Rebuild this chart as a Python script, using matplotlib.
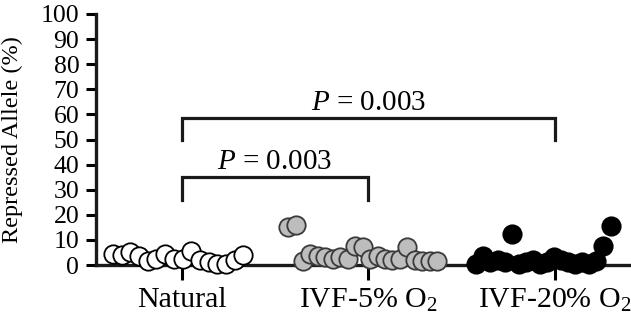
import numpy as np
import matplotlib
matplotlib.use("Agg")
from matplotlib import pyplot as plt

plt.rcParams['font.family'] = ['Liberation Serif', 'DejaVu Serif']
plt.rcParams['mathtext.fontset'] = 'custom'
plt.rcParams['mathtext.rm'] = 'Liberation Serif'
plt.rcParams['mathtext.it'] = 'Liberation Serif:italic'

# repressed allele per embryo, listed left to right within each group
groups = ['Natural', 'IVF-5% O$_2$', 'IVF-20% O$_2$']
natural = [4.5, 4, 5, 3.5, 1.5, 2.5, 4.5, 2.5, 2.5, 5.5, 2, 1, 0.5, 0.5, 2, 4]
ivf5 = [15, 16, 1.5, 4.5, 3.5, 3, 2.5, 3, 2.5, 7.5, 7, 2.5, 3.5, 2.5, 2, 2.5, 7, 2, 1.5, 1.5, 1.5]
ivf20 = [0.5, 3.5, 1, 2, 1, 12.5, 0.5, 1, 2, 0.5, 1, 3, 2, 1, 0.5, 1, 0.5, 1.5, 7.5, 15.5]
p_values = ['0.003', '0.003']

fig = plt.figure(figsize=(6.31, 3.23), dpi=100)
ax = fig.add_axes([96/631, 58/323, 1 - 96/631, 251/323])

styles = [dict(fc='white', ec='black'),
          dict(fc='#bdbdbd', ec='#3a3a3a'),
          dict(fc='black', ec='black')]
spreads = [(-0.37, 0.33), (-0.43, 0.37), (-0.42, 0.30)]
for i, vals in enumerate([natural, ivf5, ivf20]):
    x = i + np.linspace(spreads[i][0], spreads[i][1], len(vals))
    ax.scatter(x, vals, s=175, linewidths=1.3, zorder=3, clip_on=False, **styles[i])

# significance brackets
def bracket(x0, x1, y, drop, text):
    ax.plot([x0, x0, x1, x1], [y - drop, y, y, y - drop], color='#1a1a1a',
            lw=2.3, solid_joinstyle='miter', clip_on=False)
    ax.text((x0 + x1) / 2, y + 0.8, '$P$ = ' + text, ha='center', va='bottom', fontsize=21)

bracket(0, 1, 35, 9, p_values[0])
bracket(0, 2, 58.5, 8.5, p_values[1])

ax.set_xlim(-0.461, 2.41)
ax.set_ylim(0, 100)
ax.set_yticks(range(0, 101, 10))
ax.set_xticks([0, 1, 2])
ax.set_xticklabels(groups, fontsize=21.5)
ax.tick_params(axis='y', labelsize=18.5, width=2.2, length=7, pad=5)
ax.tick_params(axis='x', width=2.2, length=11, pad=5)
ax.set_ylabel('Repressed Allele (%)', fontsize=17.5, labelpad=13)
for s in ['top', 'right']:
    ax.spines[s].set_visible(False)
for s in ['left', 'bottom']:
    ax.spines[s].set_linewidth(2.4)
    ax.spines[s].set_color('#1a1a1a')

fig.savefig('out.png', dpi=100)
